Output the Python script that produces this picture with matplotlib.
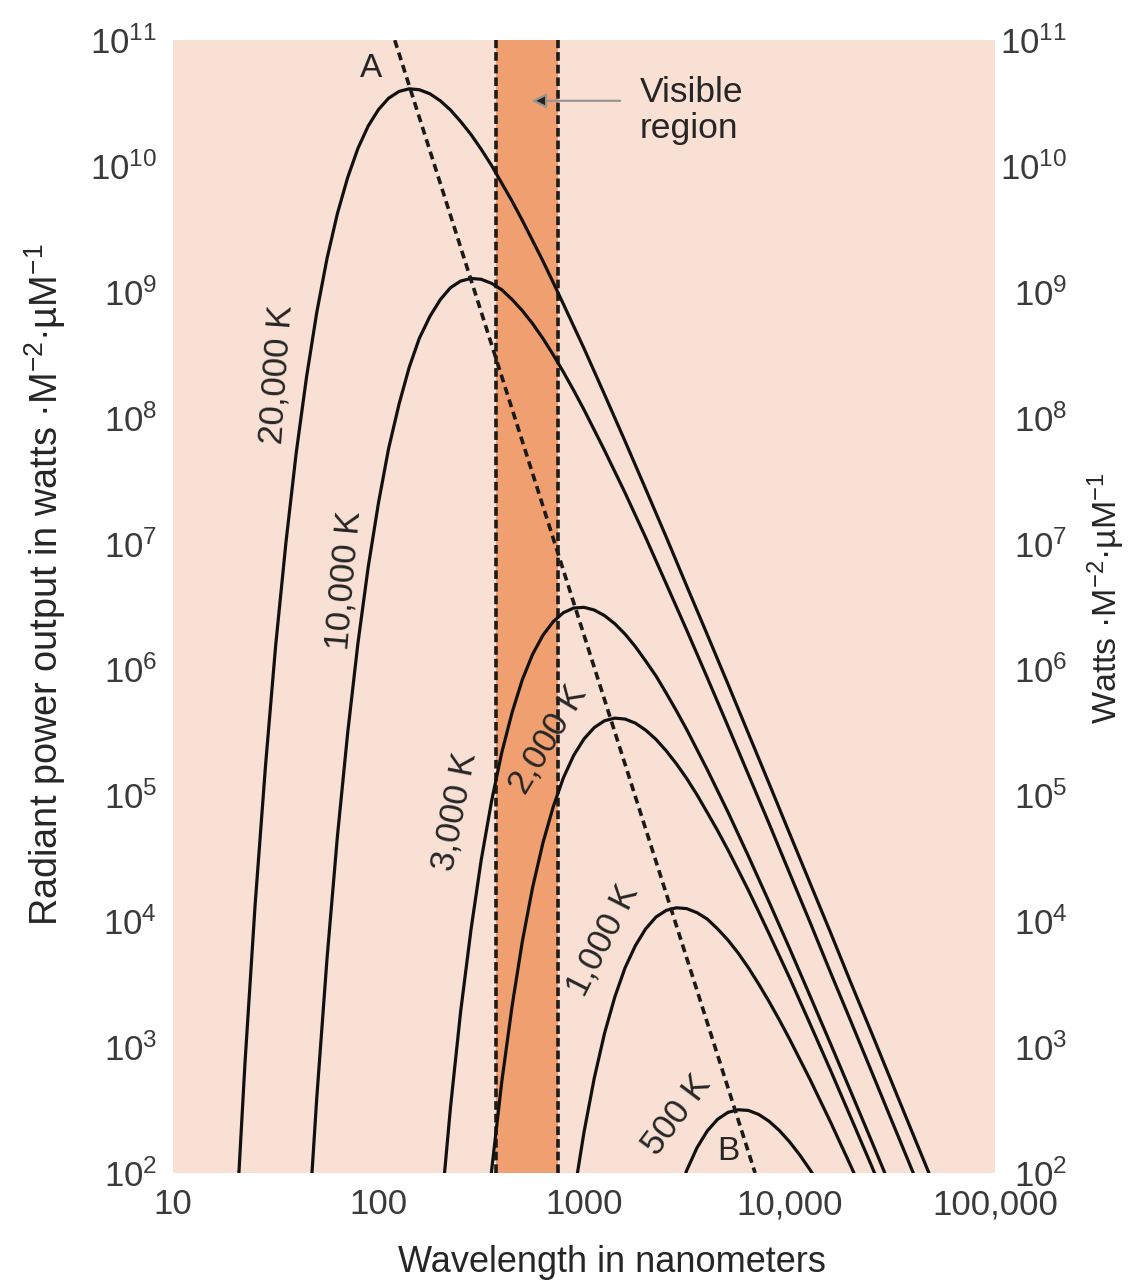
import numpy as np
import matplotlib.pyplot as plt
from matplotlib.ticker import FixedLocator, NullFormatter

plt.rcParams['font.family'] = ['Liberation Sans', 'DejaVu Sans']
plt.rcParams['mathtext.fontset'] = 'custom'
plt.rcParams['mathtext.rm'] = 'Liberation Sans'
plt.rcParams['mathtext.it'] = 'Liberation Sans'
plt.rcParams['mathtext.bf'] = 'Liberation Sans:bold'

# radiant power output (W m^-2 um^-1), wavelength in nm
wl_20000 = [20.0, 22.4, 25.1, 28.2, 31.6, 35.5, 39.8, 44.7, 50.1, 56.2, 63.1, 70.8, 79.4,
            89.1, 100, 112, 126, 141, 158, 178, 200, 224, 251, 282, 316, 355, 398, 447,
            501, 562, 631, 708, 794, 1000, 1259, 1585, 1995, 2512, 3162, 3981, 5012,
            6310, 7943, 10000, 12589, 15849, 19953, 25119, 31623, 39811, 50119]
val_20000 = [26, 740, 1.35e4, 1.72e5, 1.55e6, 1.04e7, 5.3e7, 2.13e8, 6.9e8, 1.85e9,
             4.19e9, 8.1e9, 1.38e10, 2.08e10, 2.81e10, 3.46e10, 3.92e10, 4.11e10,
             4.04e10, 3.75e10, 3.30e10, 2.79e10, 2.26e10, 1.78e10, 1.36e10, 1.01e10,
             7.3e9, 5.25e9, 3.70e9, 2.56e9, 1.76e9, 1.19e9, 8.0e8, 3.56e8, 1.53e8,
             6.5e7, 2.72e7, 1.13e7, 4.6e6, 1.89e6, 7.7e5, 3.10e5, 1.25e5, 5.0e4,
             2.01e4, 8.1e3, 3.2e3, 1.29e3, 514, 205, 82]

wl_10000 = [39.8, 44.7, 50.1, 56.2, 63.1, 70.8, 79.4, 89.1, 100, 112, 126, 141, 158,
            178, 200, 224, 251, 282, 316, 355, 398, 447, 501, 562, 631, 708, 794, 891,
            1000, 1259, 1585, 1995, 2512, 3162, 3981, 5012, 6310, 7943, 10000,
            12589, 15849, 19953, 25119, 31623, 39811, 50119]
val_10000 = [0.74, 21.6, 398, 5.1e3, 4.7e4, 3.13e5, 1.61e6, 6.5e6, 2.11e7, 5.7e7,
             1.29e8, 2.51e8, 4.28e8, 6.4e8, 8.7e8, 1.08e9, 1.22e9, 1.28e9, 1.26e9,
             1.17e9, 1.04e9, 8.7e8, 7.1e8, 5.6e8, 4.27e8, 3.17e8, 2.31e8, 1.65e8,
             1.16e8, 5.5e7, 2.53e7, 1.12e7, 4.8e6, 2.05e6, 8.6e5, 3.56e5, 1.46e5,
             6.0e4, 2.42e4, 9.8e3, 3.9e3, 1.58e3, 635, 254, 102, 41]

wl_3000 = [200, 224, 251, 282, 316, 355, 398, 447, 501, 562, 631, 708, 794, 891, 1000,
           1122, 1259, 1413, 1585, 1778, 1995, 2239, 2512, 2818, 3162, 3981, 5012,
           6310, 7943, 10000, 12589, 15849, 19953, 25119, 31623]
val_3000 = [43, 331, 1.91e3, 8.6e3, 3.06e4, 9.0e4, 2.19e5, 4.57e5, 8.3e5, 1.32e6,
            1.87e6, 2.40e6, 2.83e6, 3.08e6, 3.12e6, 2.97e6, 2.68e6, 2.31e6, 1.91e6,
            1.52e6, 1.17e6, 8.9e5, 6.5e5, 4.69e5, 3.33e5, 1.60e5, 7.4e4, 3.29e4,
            1.43e4, 6.1e3, 2.55e3, 1.06e3, 436, 178, 72]

wl_2000 = [316, 355, 398, 447, 501, 562, 631, 708, 794, 891, 1000, 1122, 1259, 1413,
           1585, 1778, 1995, 2239, 2512, 2818, 3162, 3548, 3981, 4467, 5012, 5623,
           6310, 7079, 7943, 10000, 12589, 15849, 19953, 25119, 31623]
val_2000 = [15.5, 104, 531, 2.13e3, 6.9e3, 1.85e4, 4.19e4, 8.1e4, 1.38e5, 2.08e5,
            2.81e5, 3.46e5, 3.92e5, 4.11e5, 4.04e5, 3.75e5, 3.30e5, 2.79e5, 2.26e5,
            1.78e5, 1.36e5, 1.01e5, 7.3e4, 5.25e4, 3.70e4, 2.56e4, 1.76e4, 1.19e4,
            8.0e3, 3.56e3, 1.53e3, 652, 272, 113, 46]

wl_1000 = [794, 891, 1000, 1122, 1259, 1413, 1585, 1778, 1995, 2239, 2512, 2818, 3162,
           3548, 3981, 4467, 5012, 5623, 6310, 7079, 7943, 8913, 10000, 12589, 15849,
           19953, 25119]
val_1000 = [16, 65, 211, 568, 1.29e3, 2.51e3, 4.28e3, 6.4e3, 8.7e3, 1.08e4, 1.22e4,
            1.28e4, 1.26e4, 1.17e4, 1.04e4, 8.7e3, 7.1e3, 5.6e3, 4.27e3, 3.17e3,
            2.31e3, 1.65e3, 1.16e3, 553, 253, 112, 48]

wl_500 = [2512, 2818, 3162, 3548, 3981, 4467, 5012, 5623, 6310, 7079, 7943, 8913,
          10000, 11220, 12589, 14125]
val_500 = [31, 61, 105, 159, 216, 267, 303, 318, 314, 292, 258, 218, 177, 139, 106, 79]

curves = [(wl_20000, val_20000), (wl_10000, val_10000), (wl_3000, val_3000),
          (wl_2000, val_2000), (wl_1000, val_1000), (wl_500, val_500)]

# dashed line through the peaks (A -> B)
wien_wl = [120, 6800]
wien_val = [1e11, 1e2]

visible = [375, 750]

# curve labels: text, wavelength, value, rotation
curve_labels = [('20,000 K', 32, 2.2e8, 86),
                ('10,000 K', 68, 5.1e6, 85),
                ('3,000 K', 235, 7.4e4, 79),
                ('2,000 K', 667, 2.8e5, 59),
                ('1,000 K', 1240, 7.1e3, 63),
                ('500 K', 2840, 290, 53)]

xticks = [10, 100, 1000, 10000, 100000]
xticklabels = ['10', '100', '1000', '10,000', '100,000']
yticks = [10.0 ** p for p in range(2, 12)]
yticklabels = ['$10^{%d}$' % p for p in range(2, 12)]

text_col = '#262626'
tick_col = '#3a3a3a'

fig = plt.figure(figsize=(11.32, 12.8), dpi=100)
ax = fig.add_axes([0.1528, 0.0836, 0.7262, 0.885])
ax2 = ax.twinx()
for a in (ax, ax2):
    a.set_yscale('log')
    a.set_ylim(1e2, 1e11)
    for s in a.spines.values():
        s.set_visible(False)
ax.set_xscale('log')
ax.set_xlim(10, 1e5)
ax.set_facecolor('#f8e1d4')

# visible band
ax.axvspan(visible[0], visible[1], color='#f0a070', lw=0, zorder=1)
for v in visible:
    ax.axvline(v, color='#1e1a18', lw=2.6, ls=(0, (2.4, 1.1)), zorder=2)

for wl, vals in curves:
    ax.plot(wl, vals, color='#111111', lw=2.3, zorder=3, solid_joinstyle='round')

ax.plot(wien_wl, wien_val, color='#1a1a1a', lw=2.6, ls=(0, (2.2, 1.4)), zorder=3)

for txt, x, y, rot in curve_labels:
    ax.text(x, y, txt, rotation=rot, ha='center', va='center', fontsize=25,
            color=text_col, rotation_mode='anchor', zorder=4)

ax.text(92, 6.0e10, 'A', ha='center', va='center', fontsize=24, color=text_col)
ax.text(5040, 148, 'B', ha='center', va='center', fontsize=24, color=text_col)

ax.text(1875, 2.75e10, 'Visible\nregion', ha='left', va='center', fontsize=25.5,
        color=text_col, linespacing=1.1)
ax.annotate('', xy=(555, 3.3e10), xytext=(1500, 3.3e10),
            arrowprops=dict(arrowstyle='-|>', ec='#9a9390', fc='#222222', lw=1.6,
                            mutation_scale=22, shrinkA=0, shrinkB=0))

# ticks: labels on major (length 0), marks on minor
ax.xaxis.set_major_locator(FixedLocator(xticks))
ax.set_xticklabels(xticklabels)
ax.xaxis.set_minor_locator(FixedLocator([100, 1000, 10000]))
ax.xaxis.set_minor_formatter(NullFormatter())
for a in (ax, ax2):
    a.yaxis.set_major_locator(FixedLocator(yticks))
    a.set_yticklabels(yticklabels)
    a.yaxis.set_minor_locator(FixedLocator(yticks[1:-1]))
    a.yaxis.set_minor_formatter(NullFormatter())
    a.tick_params(axis='y', which='major', length=0, labelsize=25, labelcolor=tick_col)
    a.tick_params(axis='y', which='minor', direction='in', length=20, width=1.4,
                  color='#333333')
ax.tick_params(axis='y', which='major', pad=11.5)
# right labels are right-aligned, like the left ones
ax2.tick_params(axis='y', which='major', pad=52)
for lab in ax2.get_yticklabels():
    lab.set_horizontalalignment('right')
ax.tick_params(axis='x', which='major', length=0, labelsize=25, labelcolor=tick_col, pad=11)
ax.tick_params(axis='x', which='minor', direction='in', length=18, width=1.2,
               color='#a09a96', bottom=True)

fig.text(0.04, 0.543, 'Radiant power output in watts ·M$^{-2}$·µM$^{-1}$',
         rotation=90, ha='center', va='center', fontsize=27.3, color=text_col)
fig.text(0.977, 0.533, 'Watts ·M$^{-2}$·µM$^{-1}$',
         rotation=90, ha='center', va='center', fontsize=24.5, color=text_col)
fig.text(0.541, 0.014, 'Wavelength in nanometers', ha='center', va='center',
         fontsize=26, color=text_col)

fig.savefig('out.png', dpi=100, facecolor='white')
